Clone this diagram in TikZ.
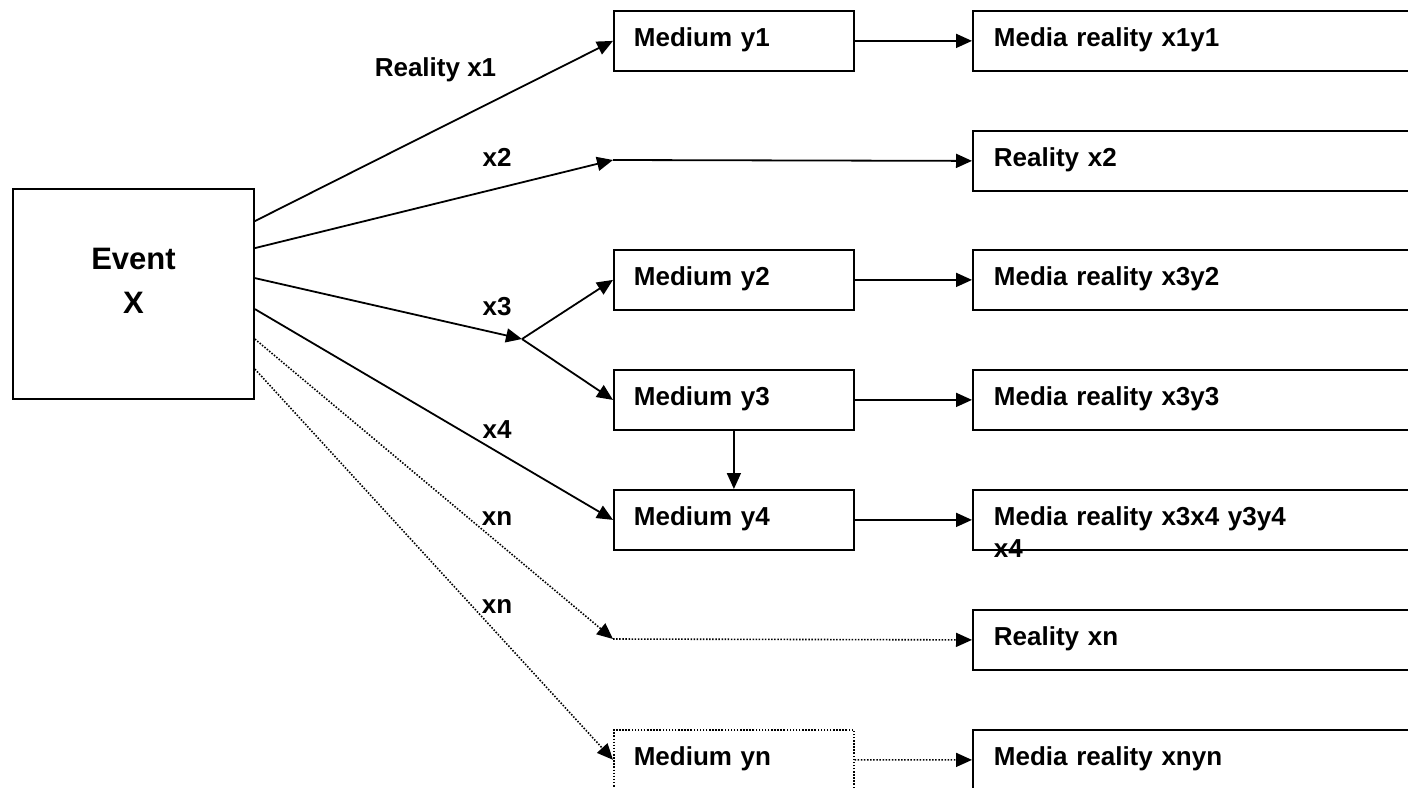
\documentclass[tikz,border=0pt]{standalone}
\usepackage{fontspec}
\setmainfont{Liberation Sans}
\usetikzlibrary{arrows.meta}

\tikzset{
  boxbase/.style={draw,line width=1.8pt,anchor=north west,inner ysep=0pt,
    text height=36pt,text depth=24pt,align=left,
    font=\bfseries\fontsize{26}{32}\selectfont},
  mbox/.style={boxbase,inner xsep=20pt,text width=200pt},
  rbox/.style={boxbase,inner xsep=21pt,text width=458pt},
  lbl/.style={anchor=base,inner sep=0pt,font=\bfseries\fontsize{26}{32}\selectfont},
  dots/.style={line width=1.6pt,dash pattern=on 1.5pt off 1.6pt}
}

\begin{document}
\begin{tikzpicture}[x=1pt,y=-1pt,line width=1.8pt,
    >={Triangle[length=16pt,width=14pt]}]
  \useasboundingbox (0,0) rectangle (1408,787);
  \fill[white] (0,0) rectangle (1408,787);
  \clip (0,0) rectangle (1408,787);

  % the event
  \node[draw,line width=1.8pt,inner xsep=20.5pt,inner ysep=0pt,text width=200pt,
    align=center,text height=80pt,text depth=130pt,
    font=\bfseries\fontsize{31}{44}\selectfont] (event) at (133.5,294) {Event\\X};
  \foreach \i/\dy in {1/33,2/60,3/90,4/121,5/151,6/181}
    \coordinate (e\i) at ([yshift=-\dy pt]event.north east);

  % media
  \node[mbox] (m1) at (613,10) {Medium y1};
  \node[mbox] (m2) at (613,249) {Medium y2};
  \node[mbox] (m3) at (613,369) {Medium y3};
  \node[mbox] (m4) at (613,489) {Medium y4};
  \node[mbox,dots] (mn) at (613,729) {Medium yn};

  % realities
  \node[rbox] (r1) at (972,10) {Media reality x1y1};
  \node[rbox] (r2) at (972,130) {Reality x2};
  \node[rbox] (r3) at (972,249) {Media reality x3y2};
  \node[rbox] (r4) at (972,369) {Media reality x3y3};
  \node[rbox] (r5) at (972,489) {Media reality x3x4 y3y4};
  \node[lbl,anchor=base west] (r5b) at (993,557) {x4};
  \node[rbox] (r6) at (972,609) {Reality xn};
  \node[rbox] (r7) at (972,729) {Media reality xnyn};

  % branch points
  \coordinate (j2) at (613,160);
  \coordinate (j3) at (522,339);
  \coordinate (jn) at (613,639);

  \node[lbl] (lx1) at (435.5,76) {Reality x1};
  \node[lbl] (lx2) at (497,166) {x2};
  \node[lbl] (lx3) at (497,315) {x3};
  \node[lbl] (lx4) at (497,438) {x4};
  \node[lbl] (lx5) at (497,525) {xn};
  \node[lbl] (lx6) at (497,613) {xn};

  \draw[->] (e1)--(m1.west);
  \draw[->] (e2)--(j2);
  \draw[->] (j2)--(r2.west);
  \draw[->] (e3)--(j3);
  \draw[->] (j3)--(m2.west);
  \draw[->] (j3)--(m3.west);
  \draw[->] (e4)--(m4.west);
  \draw[->,dots] (e5)--(jn);
  \draw[->,dots] (jn)--(r6.west);
  \draw[->,dots] (e6)--(mn.west);

  \draw[->] (m1.east)--(r1.west);
  \draw[->] (m2.east)--(r3.west);
  \draw[->] (m3.east)--(r4.west);
  \draw[->] (m4.east)--(r5.west);
  \draw[->,dots] (mn.east)--(r7.west);
  \draw[->] (m3.south)--(m4.north);
\end{tikzpicture}
\end{document}
